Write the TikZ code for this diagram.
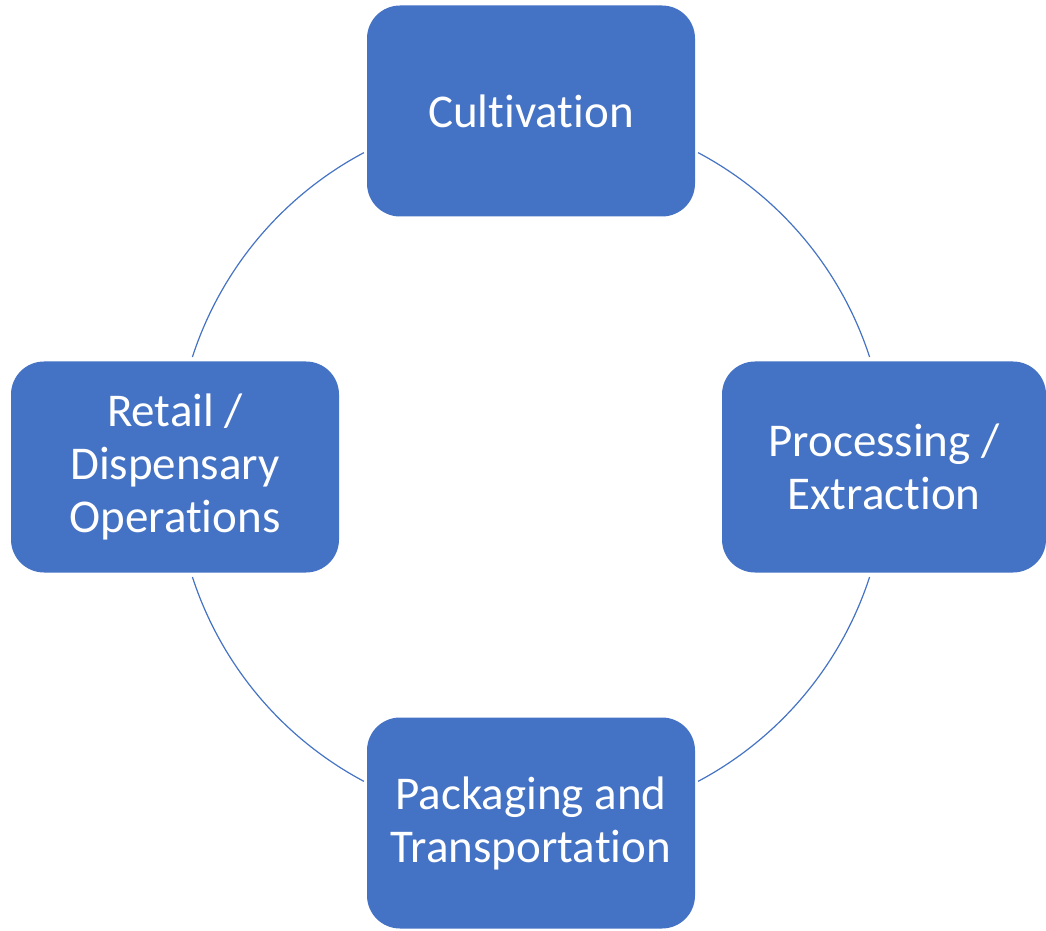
\documentclass[tikz,border=0pt]{standalone}
\usepackage{fontspec}
\setmainfont{Carlito}[RawFeature={-liga;-clig;-dlig}]
\definecolor{boxblue}{HTML}{4472C4}
\begin{document}
\begin{tikzpicture}[x=1pt,y=1pt,
  stage/.style={fill=boxblue, draw=none, rounded corners=33pt, minimum height=211pt,
    minimum width=328pt, text=white, align=center,
    font=\fontsize{47}{53}\selectfont, inner sep=0pt},
  ring/.style={draw=boxblue, line width=1.2pt}]
\useasboundingbox (0,0) rectangle (1046,930);
\coordinate (c) at (531,463);
\node[stage] (cult) at (531,819) {Cultivation};
\node[stage, minimum width=324pt] (proc) at (884,463) {Processing /\\Extraction};
\node[stage] (pack) at (531,107) {Packaging and\\Transportation};
\node[stage] (ret) at (175,463) {Retail /\\Dispensary\\Operations};
\coordinate (a1) at ([shift={(c)}]62:356);
\coordinate (a2) at ([shift={(c)}]-18:356);
\coordinate (a3) at ([shift={(c)}]198:356);
\coordinate (a4) at ([shift={(c)}]118:356);
\draw[ring] (a1) arc[start angle=62, end angle=18, radius=356];
\draw[ring] (a2) arc[start angle=-18, end angle=-62, radius=356];
\draw[ring] (a3) arc[start angle=198, end angle=242, radius=356];
\draw[ring] (a4) arc[start angle=118, end angle=162, radius=356];
\end{tikzpicture}
\end{document}
